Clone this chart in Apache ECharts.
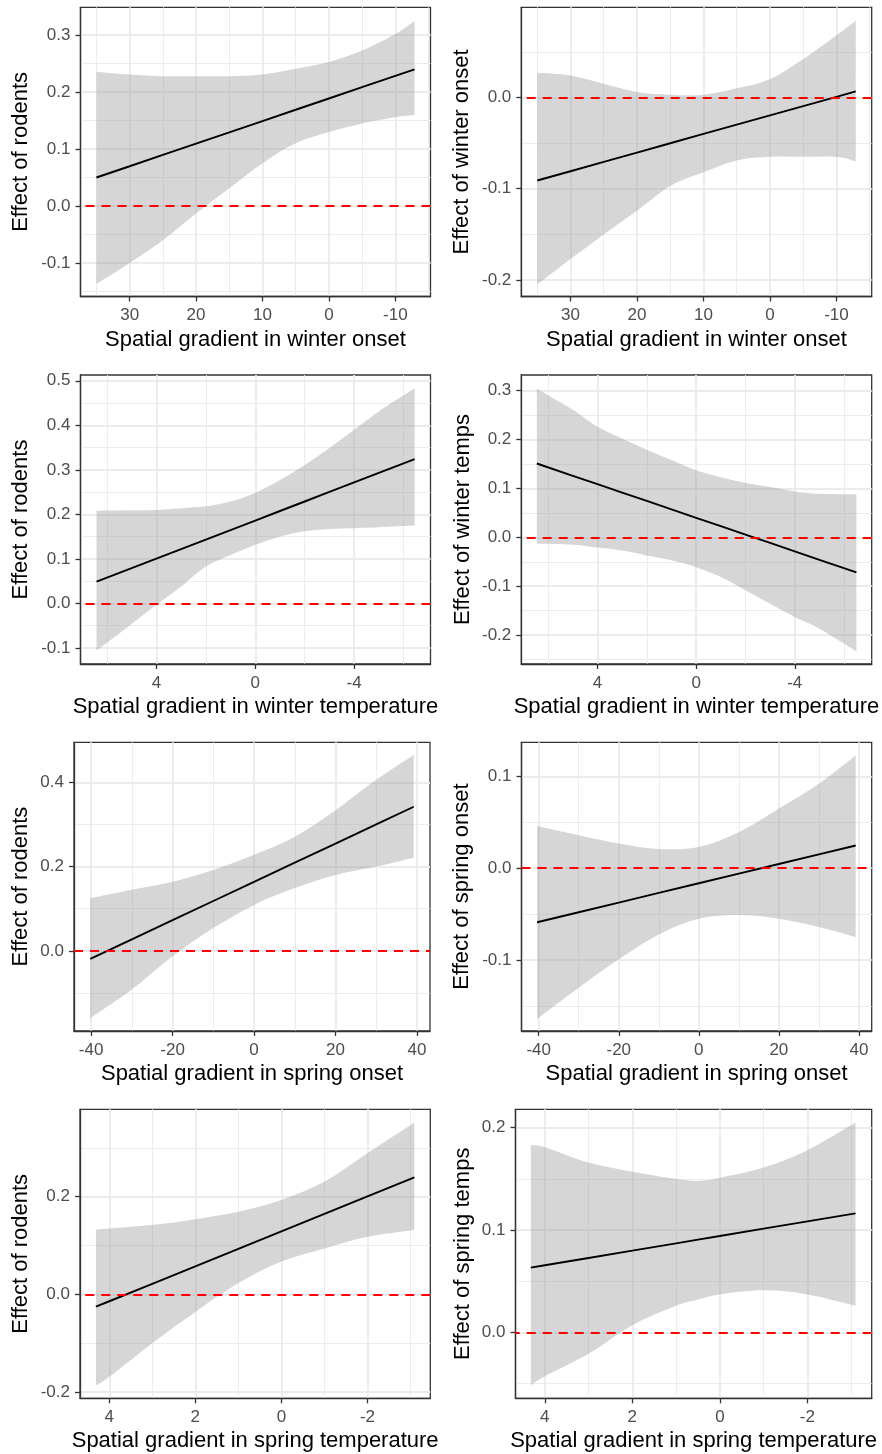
<!DOCTYPE html>
<html>
<head>
<meta charset="utf-8">
<script src="https://cdn.jsdelivr.net/npm/echarts@6/dist/echarts.min.js"></script>
<style>
html, body { margin: 0; padding: 0; background: #fff; }
#effects-chart { width: 882px; height: 1454px; }
</style>
</head>
<body>
<div id="effects-chart"></div>
<script>
// values, one set per panel (x, fitted line, ribbon low/high)
const p1X = [35, 30, 25, 20, 15, 10, 5, 0, -5, -10, -12.9]
const p1Fit = [0.0500, 0.0698, 0.0897, 0.1095, 0.1293, 0.1492, 0.1690, 0.1888, 0.2087, 0.2285, 0.2400]
const p1Lo = [-0.137, -0.100, -0.060, -0.013, 0.031, 0.075, 0.110, 0.130, 0.145, 0.156, 0.160]
const p1Hi = [0.236, 0.231, 0.228, 0.228, 0.228, 0.231, 0.241, 0.253, 0.273, 0.302, 0.325]

const p2X = [35, 30, 25, 20, 15, 10, 5, 0, -5, -10, -12.9]
const p2Fit = [-0.0910, -0.0808, -0.0706, -0.0604, -0.0502, -0.0400, -0.0298, -0.0197, -0.0095, 0.0007, 0.0066]
const p2Lo = [-0.205, -0.177, -0.150, -0.124, -0.097, -0.082, -0.069, -0.065, -0.065, -0.065, -0.070]
const p2Hi = [0.027, 0.024, 0.015, 0.006, 0.003, 0.003, 0.010, 0.020, 0.042, 0.068, 0.084]

const p3X = [6.42, 5, 4, 3, 2, 1, 0, -1, -2, -3, -4, -5, -6.45]
const p3Fit = [0.0490, 0.0793, 0.1007, 0.1221, 0.1435, 0.1648, 0.1862, 0.2076, 0.2289, 0.2503, 0.2717, 0.2931, 0.3240]
const p3Lo = [-0.106, -0.046, -0.003, 0.038, 0.083, 0.109, 0.132, 0.150, 0.162, 0.167, 0.169, 0.171, 0.175]
const p3Hi = [0.208, 0.209, 0.210, 0.214, 0.218, 0.229, 0.248, 0.277, 0.311, 0.349, 0.390, 0.431, 0.483]

const p4X = [6.46, 5, 4, 3, 2, 1, 0, -1, -2, -3, -4, -5, -6.5]
const p4Fit = [0.1510, 0.1259, 0.1087, 0.0916, 0.0744, 0.0572, 0.0400, 0.0228, 0.0057, -0.0115, -0.0287, -0.0459, -0.0716]
const p4Lo = [-0.013, -0.015, -0.021, -0.027, -0.037, -0.047, -0.061, -0.081, -0.108, -0.136, -0.163, -0.187, -0.233]
const p4Hi = [0.304, 0.261, 0.226, 0.202, 0.179, 0.158, 0.137, 0.123, 0.111, 0.103, 0.094, 0.089, 0.088]

const p5X = [-40.2, -30, -20, -10, 0, 10, 20, 30, 39.2]
const p5Fit = [-0.0190, 0.0274, 0.0729, 0.1183, 0.1638, 0.2093, 0.2547, 0.3002, 0.3420]
const p5Lo = [-0.160, -0.092, -0.013, 0.054, 0.109, 0.149, 0.180, 0.200, 0.221]
const p5Hi = [0.125, 0.145, 0.164, 0.192, 0.228, 0.271, 0.334, 0.406, 0.465]

const p6X = [-40.4, -30, -20, -10, 0, 10, 20, 30, 39.2]
const p6Fit = [-0.0588, -0.0479, -0.0374, -0.0268, -0.0164, -0.0059, 0.0046, 0.0151, 0.0247]
const p6Lo = [-0.164, -0.130, -0.099, -0.072, -0.055, -0.051, -0.055, -0.064, -0.075]
const p6Hi = [0.046, 0.036, 0.027, 0.021, 0.023, 0.039, 0.065, 0.092, 0.123]

const p7X = [4.31, 4, 3, 2, 1, 0, -1, -2, -3.09]
const p7Fit = [-0.0253, -0.0142, 0.0216, 0.0574, 0.0932, 0.1290, 0.1648, 0.2006, 0.2396]
const p7Lo = [-0.187, -0.169, -0.100, -0.036, 0.023, 0.067, 0.094, 0.118, 0.132]
const p7Hi = [0.133, 0.135, 0.142, 0.154, 0.169, 0.193, 0.231, 0.289, 0.352]

const p8X = [4.32, 4, 3, 2, 1, 0.5, 0, -1, -2, -3.1]
const p8Fit = [0.0632, 0.0655, 0.0727, 0.0798, 0.0870, 0.0906, 0.0941, 0.1013, 0.1085, 0.1163]
const p8Lo = [-0.052, -0.043, -0.021, 0.007, 0.026, 0.032, 0.037, 0.041, 0.037, 0.026]
const p8Hi = [0.183, 0.181, 0.166, 0.157, 0.150, 0.148, 0.151, 0.161, 0.178, 0.205]

// tick labels
const winterOnsetTicks = [30, 20, 10, 0, -10]
const winterOnsetMinor = [35, 25, 15, 5, -5, -15]
const winterTempTicks = [4, 0, -4]
const winterTempMinor = [6, 2, -2, -6]
const springOnsetTicks = [-40, -20, 0, 20, 40]
const springOnsetMinor = [-30, -10, 10, 30]
const springTempTicks = [4, 2, 0, -2]
const springTempMinor = [3, 1, -1, -3]

const p1YTicks = [0.3, 0.2, 0.1, 0.0, -0.1]
const p1YMinor = [0.25, 0.15, 0.05, -0.05, -0.15]
const p2YTicks = [0.0, -0.1, -0.2]
const p2YMinor = [0.05, -0.05, -0.15]
const p3YTicks = [0.5, 0.4, 0.3, 0.2, 0.1, 0.0, -0.1]
const p3YMinor = [0.45, 0.35, 0.25, 0.15, 0.05, -0.05]
const p4YTicks = [0.3, 0.2, 0.1, 0.0, -0.1, -0.2]
const p4YMinor = [0.25, 0.15, 0.05, -0.05, -0.15, -0.25]
const p5YTicks = [0.4, 0.2, 0.0]
const p5YMinor = [0.3, 0.1, -0.1]
const p6YTicks = [0.1, 0.0, -0.1]
const p6YMinor = [0.05, -0.05, -0.15]
const p7YTicks = [0.2, 0.0, -0.2]
const p7YMinor = [0.3, 0.1, -0.1]
const p8YTicks = [0.2, 0.1, 0.0]
const p8YMinor = [0.15, 0.05, -0.05]

const xTitles = [
	'Spatial gradient in winter onset', 'Spatial gradient in winter onset',
	'Spatial gradient in winter temperature', 'Spatial gradient in winter temperature',
	'Spatial gradient in spring onset', 'Spatial gradient in spring onset',
	'Spatial gradient in spring temperature', 'Spatial gradient in spring temperature'
]
const yTitles = [
	'Effect of rodents', 'Effect of winter onset',
	'Effect of rodents', 'Effect of winter temps',
	'Effect of rodents', 'Effect of spring onset',
	'Effect of rodents', 'Effect of spring temps'
]

const FONT = '"Liberation Sans", Arial, Helvetica, sans-serif'

// layout + scale ranges per panel
const panels = [
	{ x: p1X, fit: p1Fit, lo: p1Lo, hi: p1Hi, xt: winterOnsetTicks, xm: winterOnsetMinor, yt: p1YTicks, ym: p1YMinor,
		xr: [-15.3, 37.4], yr: [-0.159, 0.349], inv: true, box: [80.5, 7.3, 350, 289.2], yGap: 48.5 },
	{ x: p2X, fit: p2Fit, lo: p2Lo, hi: p2Hi, xt: winterOnsetTicks, xm: winterOnsetMinor, yt: p2YTicks, ym: p2YMinor,
		xr: [-15.3, 37.4], yr: [-0.218, 0.0987], inv: true, box: [521.3, 7.3, 350.4, 289.2], yGap: 48 },
	{ x: p3X, fit: p3Fit, lo: p3Lo, hi: p3Hi, xt: winterTempTicks, xm: winterTempMinor, yt: p3YTicks, ym: p3YMinor,
		xr: [-7.09, 7.07], yr: [-0.136, 0.513], inv: true, box: [80.5, 375, 350, 289], yGap: 48.2 },
	{ x: p4X, fit: p4Fit, lo: p4Lo, hi: p4Hi, xt: winterTempTicks, xm: winterTempMinor, yt: p4YTicks, ym: p4YMinor,
		xr: [-7.12, 7.09], yr: [-0.259, 0.332], inv: true, box: [521.3, 375, 350.4, 289], yGap: 47.5 },
	{ x: p5X, fit: p5Fit, lo: p5Lo, hi: p5Hi, xt: springOnsetTicks, xm: springOnsetMinor, yt: p5YTicks, ym: p5YMinor,
		xr: [-44.2, 43.2], yr: [-0.190, 0.495], inv: false, box: [74, 742.3, 356, 288.6], yGap: 41.7 },
	{ x: p6X, fit: p6Fit, lo: p6Lo, hi: p6Hi, xt: springOnsetTicks, xm: springOnsetMinor, yt: p6YTicks, ym: p6YMinor,
		xr: [-44.3, 43.2], yr: [-0.177, 0.137], inv: false, box: [521.5, 742.3, 350.2, 288.6], yGap: 48.5 },
	{ x: p7X, fit: p7Fit, lo: p7Lo, hi: p7Hi, xt: springTempTicks, xm: springTempMinor, yt: p7YTicks, ym: p7YMinor,
		xr: [-3.46, 4.68], yr: [-0.213, 0.379], inv: true, box: [80, 1109.3, 350.3, 289], yGap: 47.7 },
	{ x: p8X, fit: p8Fit, lo: p8Lo, hi: p8Hi, xt: springTempTicks, xm: springTempMinor, yt: p8YTicks, ym: p8YMinor,
		xr: [-3.47, 4.67], yr: [-0.0645, 0.218], inv: true, box: [515.5, 1109.3, 356.2, 289], yGap: 41.6 }
]

// catmull-rom through pixel points, as svg path commands (without the leading M)
function curveThrough(pts) {
	let d = ''
	for (let k = 0; k < pts.length - 1; k++) {
		const p0 = pts[Math.max(k - 1, 0)]
		const p1 = pts[k]
		const p2 = pts[k + 1]
		const p3 = pts[Math.min(k + 2, pts.length - 1)]
		const c1 = [p1[0] + (p2[0] - p0[0]) / 6, p1[1] + (p2[1] - p0[1]) / 6]
		const c2 = [p2[0] - (p3[0] - p1[0]) / 6, p2[1] - (p3[1] - p1[1]) / 6]
		d += ' C' + c1[0] + ',' + c1[1] + ' ' + c2[0] + ',' + c2[1] + ' ' + p2[0] + ',' + p2[1]
	}
	return d
}

const grids = []
const xAxes = []
const yAxes = []
const series = []
const minorX = []
const minorY = []

panels.forEach((p, i) => {
	grids.push({
		left: p.box[0], top: p.box[1], width: p.box[2], height: p.box[3],
		show: true, borderColor: '#333333', borderWidth: 1.3, backgroundColor: 'transparent',
		containLabel: false, outerBoundsMode: 'none'
	})
	xAxes.push({
		type: 'value', gridIndex: i, min: p.xr[0], max: p.xr[1], inverse: p.inv,
		name: xTitles[i], nameLocation: 'middle', nameGap: 32, nameMoveOverlap: false,
		nameTextStyle: { fontFamily: FONT, fontSize: 22, color: '#000' },
		axisLine: { show: true, onZero: false, lineStyle: { color: '#333333', width: 1.3 } },
		axisTick: { show: true, length: 5, customValues: p.xt, lineStyle: { color: '#333333', width: 1.3 } },
		axisLabel: { customValues: p.xt, margin: 10.5, fontFamily: FONT, fontSize: 17, color: '#4d4d4d',
			formatter: v => String(v) },
		splitLine: { show: true, lineStyle: { color: '#ebebeb', width: 1.8 } }
	})
	yAxes.push({
		type: 'value', gridIndex: i, min: p.yr[0], max: p.yr[1],
		name: yTitles[i], nameLocation: 'middle', nameRotate: 90, nameGap: p.yGap, nameMoveOverlap: false,
		nameTextStyle: { fontFamily: FONT, fontSize: 22, color: '#000' },
		axisLine: { show: true, onZero: false, lineStyle: { color: '#333333', width: 1.3 } },
		axisTick: { show: true, length: 5, customValues: p.yt, lineStyle: { color: '#333333', width: 1.3 } },
		axisLabel: { customValues: p.yt, margin: 10, fontFamily: FONT, fontSize: 17, color: '#4d4d4d',
			formatter: v => v.toFixed(1) },
		splitLine: { show: true, lineStyle: { color: '#ebebeb', width: 1.8 } }
	})
	// minor grid lines on a twin axis
	minorX.push({
		type: 'value', gridIndex: i, min: p.xr[0], max: p.xr[1], inverse: p.inv,
		axisLine: { show: false },
		axisTick: { show: false, customValues: p.xm },
		axisLabel: { show: false, customValues: p.xm },
		splitLine: { show: true, lineStyle: { color: '#ebebeb', width: 0.9 } }
	})
	minorY.push({
		type: 'value', gridIndex: i, min: p.yr[0], max: p.yr[1],
		axisLine: { show: false },
		axisTick: { show: false, customValues: p.ym },
		axisLabel: { show: false, customValues: p.ym },
		splitLine: { show: true, lineStyle: { color: '#ebebeb', width: 0.9 } }
	})

	// confidence ribbon
	series.push({
		type: 'custom', xAxisIndex: i, yAxisIndex: i, silent: true, z: 1,
		data: p.x.map((x, k) => [x, p.lo[k], p.hi[k]]),
		encode: { x: 0, y: [1, 2] },
		renderItem: function (params, api) {
			if (params.dataIndex !== 0) return
			const top = p.x.map((x, k) => api.coord([x, p.hi[k]]))
			const bottom = p.x.map((x, k) => api.coord([x, p.lo[k]])).reverse()
			const d = 'M' + top[0][0] + ',' + top[0][1] + curveThrough(top) +
				' L' + bottom[0][0] + ',' + bottom[0][1] + curveThrough(bottom) + ' Z'
			return { type: 'path', shape: { pathData: d }, style: { fill: 'rgba(153,153,153,0.4)' } }
		}
	})
	series.push({
		type: 'line', xAxisIndex: i, yAxisIndex: i, z: 3,
		data: p.x.map((x, k) => [x, p.fit[k]]),
		symbol: 'none', showSymbol: false, silent: true,
		lineStyle: { color: '#000000', width: 1.9 },
		markLine: {
			silent: true, symbol: ['none', 'none'], label: { show: false }, animation: false,
			lineStyle: { color: '#ff0000', type: [9, 7], width: 1.9 },
			data: [{ yAxis: 0 }]
		}
	})
})

const chart = echarts.init(document.getElementById('effects-chart'), null, { renderer: 'canvas' })
chart.setOption({
	animation: false,
	backgroundColor: '#ffffff',
	grid: grids,
	xAxis: xAxes.concat(minorX),
	yAxis: yAxes.concat(minorY),
	series: series
})
</script>
</body>
</html>
